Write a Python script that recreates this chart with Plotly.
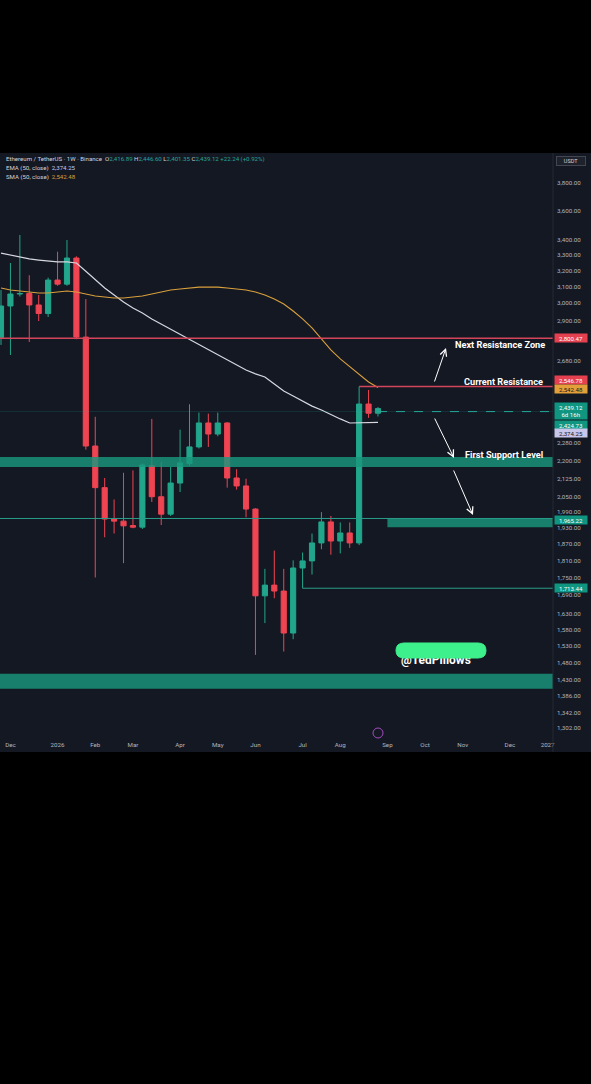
import math
import plotly.graph_objects as go

# weekly ETH/USDT candles (Binance, 1W)
dates = ["2025-11-24", "2025-12-01", "2025-12-08", "2025-12-15", "2025-12-22", "2025-12-29",
         "2026-01-05", "2026-01-12", "2026-01-19", "2026-01-26", "2026-02-02", "2026-02-09",
         "2026-02-16", "2026-02-23", "2026-03-02", "2026-03-09", "2026-03-16", "2026-03-23",
         "2026-03-30", "2026-04-06", "2026-04-13", "2026-04-20", "2026-04-27", "2026-05-04",
         "2026-05-11", "2026-05-18", "2026-05-25", "2026-06-01", "2026-06-08", "2026-06-15",
         "2026-06-22", "2026-06-29", "2026-07-06", "2026-07-13", "2026-07-20", "2026-07-27",
         "2026-08-03", "2026-08-10", "2026-08-17", "2026-08-24", "2026-08-31"]
opens = [2801, 2984, 3055, 3058, 2990, 2940, 3140, 3115, 3279, 2807, 2266, 2088, 1963, 1955,
         1938, 1932, 2180, 2051, 1982, 2107, 2190, 2262, 2371, 2320, 2371, 2128, 2095, 2002,
         1688, 1724, 1704, 1569, 1783, 1808, 1873, 1952, 1880, 1910, 1873, 2461, 2416.89]
highs = [3079, 3247, 3431, 3170, 3049, 3155, 3320, 3397, 3290, 3025, 2400, 2128, 2040, 2150,
         2160, 2190, 2390, 2195, 2175, 2340, 2460, 2420, 2415, 2420, 2375, 2165, 2125, 2005,
         1780, 1845, 1780, 1810, 1838, 1908, 1990, 1975, 1950, 1950, 2546.78, 2530, 2446.60]
lows = [2764, 2710, 3040, 2780, 2897, 2920, 3105, 3105, 2795, 2250, 1750, 1894, 1908, 1800,
        1928, 1925, 2030, 1940, 1975, 2070, 2180, 2255, 2262, 2310, 2088, 2080, 1970, 1503,
        1600, 1680, 1513, 1550, 1713.44, 1760, 1850, 1830, 1835, 1855, 1865, 2395, 2401.35]
closes = [2984, 3055, 3058, 2990, 2940, 3140, 3115, 3279, 2807, 2266, 2088, 1963, 1955, 1937,
          1932, 2183, 2051, 1982, 2107, 2192, 2262, 2371, 2320, 2371, 2128, 2095, 2002, 1688,
          1724, 1704, 1569, 1783, 1808, 1873, 1952, 1880, 1910, 1873, 2461, 2416.88, 2439.12]

ema50 = [3311, 3298, 3285, 3273, 3266, 3260, 3254, 3254, 3247, 3195, 3140, 3091, 3049, 3007,
         2972, 2943, 2909, 2880, 2852, 2824, 2796, 2764, 2737, 2710, 2684, 2657, 2631, 2611,
         2595, 2560, 2525, 2500, 2476, 2451, 2432, 2409, 2390, 2371, 2371, 2373, 2374.25]
sma50 = [3091, 3079, 3073, 3067, 3061, 3061, 3067, 3073, 3067, 3055, 3043, 3037, 3031, 3031,
         3037, 3043, 3055, 3067, 3079, 3085, 3091, 3097, 3097, 3097, 3091, 3085, 3079, 3067,
         3049, 3025, 2996, 2955, 2909, 2858, 2796, 2737, 2689, 2647, 2606, 2570, 2542.48]

# drawn levels
next_resistance = 2800.47
current_resistance = 2546.78
support_line = 1965.22
swing_low = 1713.44
last_price = 2424.73
zone_2200 = (2174, 2218)
zone_1950 = (1932, 1965.22)
zone_1430 = (1406, 1448)

x_tick_vals = ["2025-12-01", "2026-01-05", "2026-02-02", "2026-03-02", "2026-04-06", "2026-05-04",
               "2026-06-01", "2026-07-06", "2026-08-03", "2026-09-07", "2026-10-05", "2026-11-02",
               "2026-12-07", "2027-01-04"]
x_tick_text = ["Dec", "2026", "Feb", "Mar", "Apr", "May", "Jun", "Jul", "Aug", "Sep", "Oct", "Nov",
               "Dec", "2027"]
y_tick_vals = [3800, 3600, 3400, 3300, 3200, 3100, 3000, 2900, 2680, 2280, 2200, 2125, 2050, 1990,
               1930, 1870, 1810, 1750, 1690, 1630, 1580, 1530, 1480, 1430, 1386, 1342, 1302]

X_START, X_END = "2025-11-23 06:00", "2027-01-08"
BG = "#141823"
GREEN = "#22a68b"
RED = "#ef4452"
TEAL = "#2a9d8a"
FONT = "Roboto"

# plot area in page pixels
PL, PR, PT, PB = 0, 553, 155, 740


def px_x(px):
    return (px - PL) / (PR - PL)


def px_y(py):
    return (PB - py) / (PB - PT)


fig = go.Figure()

fig.add_trace(go.Candlestick(
    x=dates, open=opens, high=highs, low=lows, close=closes,
    increasing=dict(line=dict(color=GREEN, width=1), fillcolor=GREEN),
    decreasing=dict(line=dict(color=RED, width=1), fillcolor=RED),
    whiskerwidth=0, hoverinfo="skip", showlegend=False,
))

fig.add_trace(go.Scatter(x=dates, y=ema50, mode="lines", line=dict(color="#d6d8e0", width=1.2),
                         hoverinfo="skip", showlegend=False))
fig.add_trace(go.Scatter(x=dates, y=sma50, mode="lines", line=dict(color="#d9a03c", width=1.1),
                         hoverinfo="skip", showlegend=False))


def zone(x0, x1, lo, hi):
    fig.add_trace(go.Scatter(x=[x0, x1, x1, x0], y=[lo, lo, hi, hi], fill="toself", mode="lines",
                             fillcolor="rgba(26,150,124,0.82)", line=dict(width=0),
                             hoverinfo="skip", showlegend=False))


def level(x0, price, color, width=1, dash="solid"):
    fig.add_trace(go.Scatter(x=[x0, X_END], y=[price, price], mode="lines",
                             line=dict(color=color, width=width, dash=dash),
                             hoverinfo="skip", showlegend=False))


zone(X_START, X_END, *zone_2200)
zone("2026-09-07", X_END, *zone_1950)
zone(X_START, X_END, *zone_1430)

level(X_START, next_resistance, "#d3455b", 1.5)
level(dates[38], current_resistance, "#d3455b", 1.5)
level(X_START, support_line, TEAL, 1)
level(dates[32], swing_low, TEAL, 1)
level(X_START, last_price, "rgba(38,166,154,0.18)", 1)
level(dates[40], last_price, "#26a69a", 1, "dash")

# watermark (partly hidden by the green scribble)
fig.add_trace(go.Scatter(x=["2026-10-13"], y=[1485], mode="text", text=["<b>@TedPillows</b>"],
                         textfont=dict(family=FONT, size=12, color="#ffffff"),
                         hoverinfo="skip", showlegend=False))

shapes = [
    dict(type="rect", xref="paper", yref="paper", x0=0, x1=591 / 553, y0=px_y(752), y1=px_y(153),
         fillcolor=BG, line=dict(width=0), layer="below"),
    dict(type="line", xref="paper", yref="paper", x0=1, x1=1, y0=px_y(752), y1=px_y(153),
         line=dict(color="#252934", width=1)),
]

# green scribble over the watermark
L, R, T, B = 396, 486, 643, 658
rr = 8
mid = (T + B) / 2
pts = [
    ("M", [(L + rr, T)]), ("L", [(R - rr, T)]), ("Q", [(R, T), (R, mid)]), ("Q", [(R, B), (R - rr, B)]),
    ("L", [(L + rr, B)]), ("Q", [(L, B), (L, mid)]), ("Q", [(L, T), (L + rr, T)]),
]
path = " ".join(c + " " + " ".join(f"{px_x(a):.5f},{px_y(b):.5f}" for a, b in p) for c, p in pts) + " Z"
shapes.append(dict(type="path", xref="paper", yref="paper", path=path, fillcolor="#3ef08c",
                   line=dict(color="#3ef08c", width=1), layer="above"))

# small event icon near the time axis
shapes.append(dict(type="circle", xref="paper", yref="paper", x0=px_x(373), x1=px_x(383),
                   y0=px_y(738), y1=px_y(728), line=dict(color="#a54bc4", width=1)))

annotations = []

# legend lines top left
teal_v = "#26a69a"
legend1 = ("Ethereum / TetherUS · 1W · Binance  "
           f"O<span style='color:{teal_v}'>2,416.89</span> "
           f"H<span style='color:{teal_v}'>2,446.60</span> "
           f"L<span style='color:{teal_v}'>2,401.35</span> "
           f"C<span style='color:{teal_v}'>2,439.12 +22.24 (+0.92%)</span>")
legend2 = "EMA (50, close)  <span style='color:#c9c6ec'>2,374.25</span>"
legend3 = "SMA (50, close)  <span style='color:#d9a03c'>2,542.48</span>"
for txt, py in [(legend1, 159), (legend2, 168), (legend3, 177)]:
    annotations.append(dict(xref="paper", yref="paper", x=px_x(4), y=px_y(py), text=txt,
                            showarrow=False, xanchor="left", yanchor="middle",
                            font=dict(family=FONT, size=6.1, color="#d1d4dc")))

annotations.append(dict(xref="paper", yref="paper", x=px_x(571), y=px_y(161), text="USDT",
                        showarrow=False, xanchor="center", yanchor="middle", width=26,
                        bgcolor="#1e222d", bordercolor="#434651", borderwidth=1, borderpad=1,
                        font=dict(family=FONT, size=5.5, color="#d1d4dc")))

# price labels on the axis
axis_labels = [
    ("2,800.47", next_resistance, 0, "#e5404f", "#ffffff"),
    ("2,546.78", current_resistance, 7, "#e5404f", "#ffffff"),
    ("2,542.48", 2542.48, -1.5, "#e3a03a", "#131722"),
    ("2,439.12<br>6d 16h", 2439.12, -2, "#0f9580", "#ffffff"),
    ("2,424.73", last_price, -13, "#0f9580", "#ffffff"),
    ("2,374.25", 2374.25, -10.5, "#c9c6ec", "#131722"),
    ("1,965.22", support_line, -1.5, "#0f9580", "#ffffff"),
    ("1,713.44", swing_low, 0, "#0f9580", "#ffffff"),
]
for txt, price, shift, bg, fg in axis_labels:
    annotations.append(dict(xref="paper", yref="y", x=px_x(571), y=math.log10(price), yshift=shift,
                            text=txt, showarrow=False, xanchor="center", yanchor="middle", width=31,
                            bgcolor=bg, borderpad=0.5, font=dict(family=FONT, size=6.1, color=fg)))

# chart notes
for txt, px_r, py in [("Next Resistance Zone", 547, 344), ("Current Resistance", 545, 381),
                      ("First Support Level", 545, 454)]:
    annotations.append(dict(xref="paper", yref="paper", x=px_x(px_r), y=px_y(py), text=f"<b>{txt}</b>",
                            showarrow=False, xanchor="right", yanchor="middle",
                            font=dict(family=FONT, size=9.2, color="#ffffff")))

for (hx, hy), (tx, ty) in [((446, 348), (434, 383)), ((454, 458), (434, 417)), ((473, 515), (453, 469))]:
    annotations.append(dict(xref="paper", yref="paper", x=px_x(hx), y=px_y(hy), ax=tx - hx, ay=ty - hy,
                            text="", showarrow=True, arrowhead=5, arrowsize=1.3, arrowwidth=1,
                            arrowcolor="#ffffff", standoff=0))

fig.update_layout(
    width=591, height=1084,
    margin=dict(l=PL, r=591 - PR, t=PT, b=1084 - PB),
    paper_bgcolor="#000000", plot_bgcolor=BG,
    boxgap=0.22,
    showlegend=False,
    shapes=shapes,
    annotations=annotations,
    xaxis=dict(type="date", range=[X_START, X_END], tickvals=x_tick_vals, ticktext=x_tick_text,
               tickfont=dict(family=FONT, size=6.2, color="#b2b5be"), showgrid=False, zeroline=False,
               rangeslider=dict(visible=False), ticks="", fixedrange=True),
    yaxis=dict(type="log", range=[math.log10(1271.5), math.log10(4015)], side="right",
               tickvals=y_tick_vals, ticktext=[f"{v:,.2f}" for v in y_tick_vals],
               tickfont=dict(family=FONT, size=6.2, color="#b2b5be"), showgrid=False,
               zeroline=False, ticks="", ticklabelstandoff=3, fixedrange=True),
)

fig.write_html("out.html", config={"displayModeBar": False},
               post_script="document.body.style.margin='0';document.body.style.background='#000';")
